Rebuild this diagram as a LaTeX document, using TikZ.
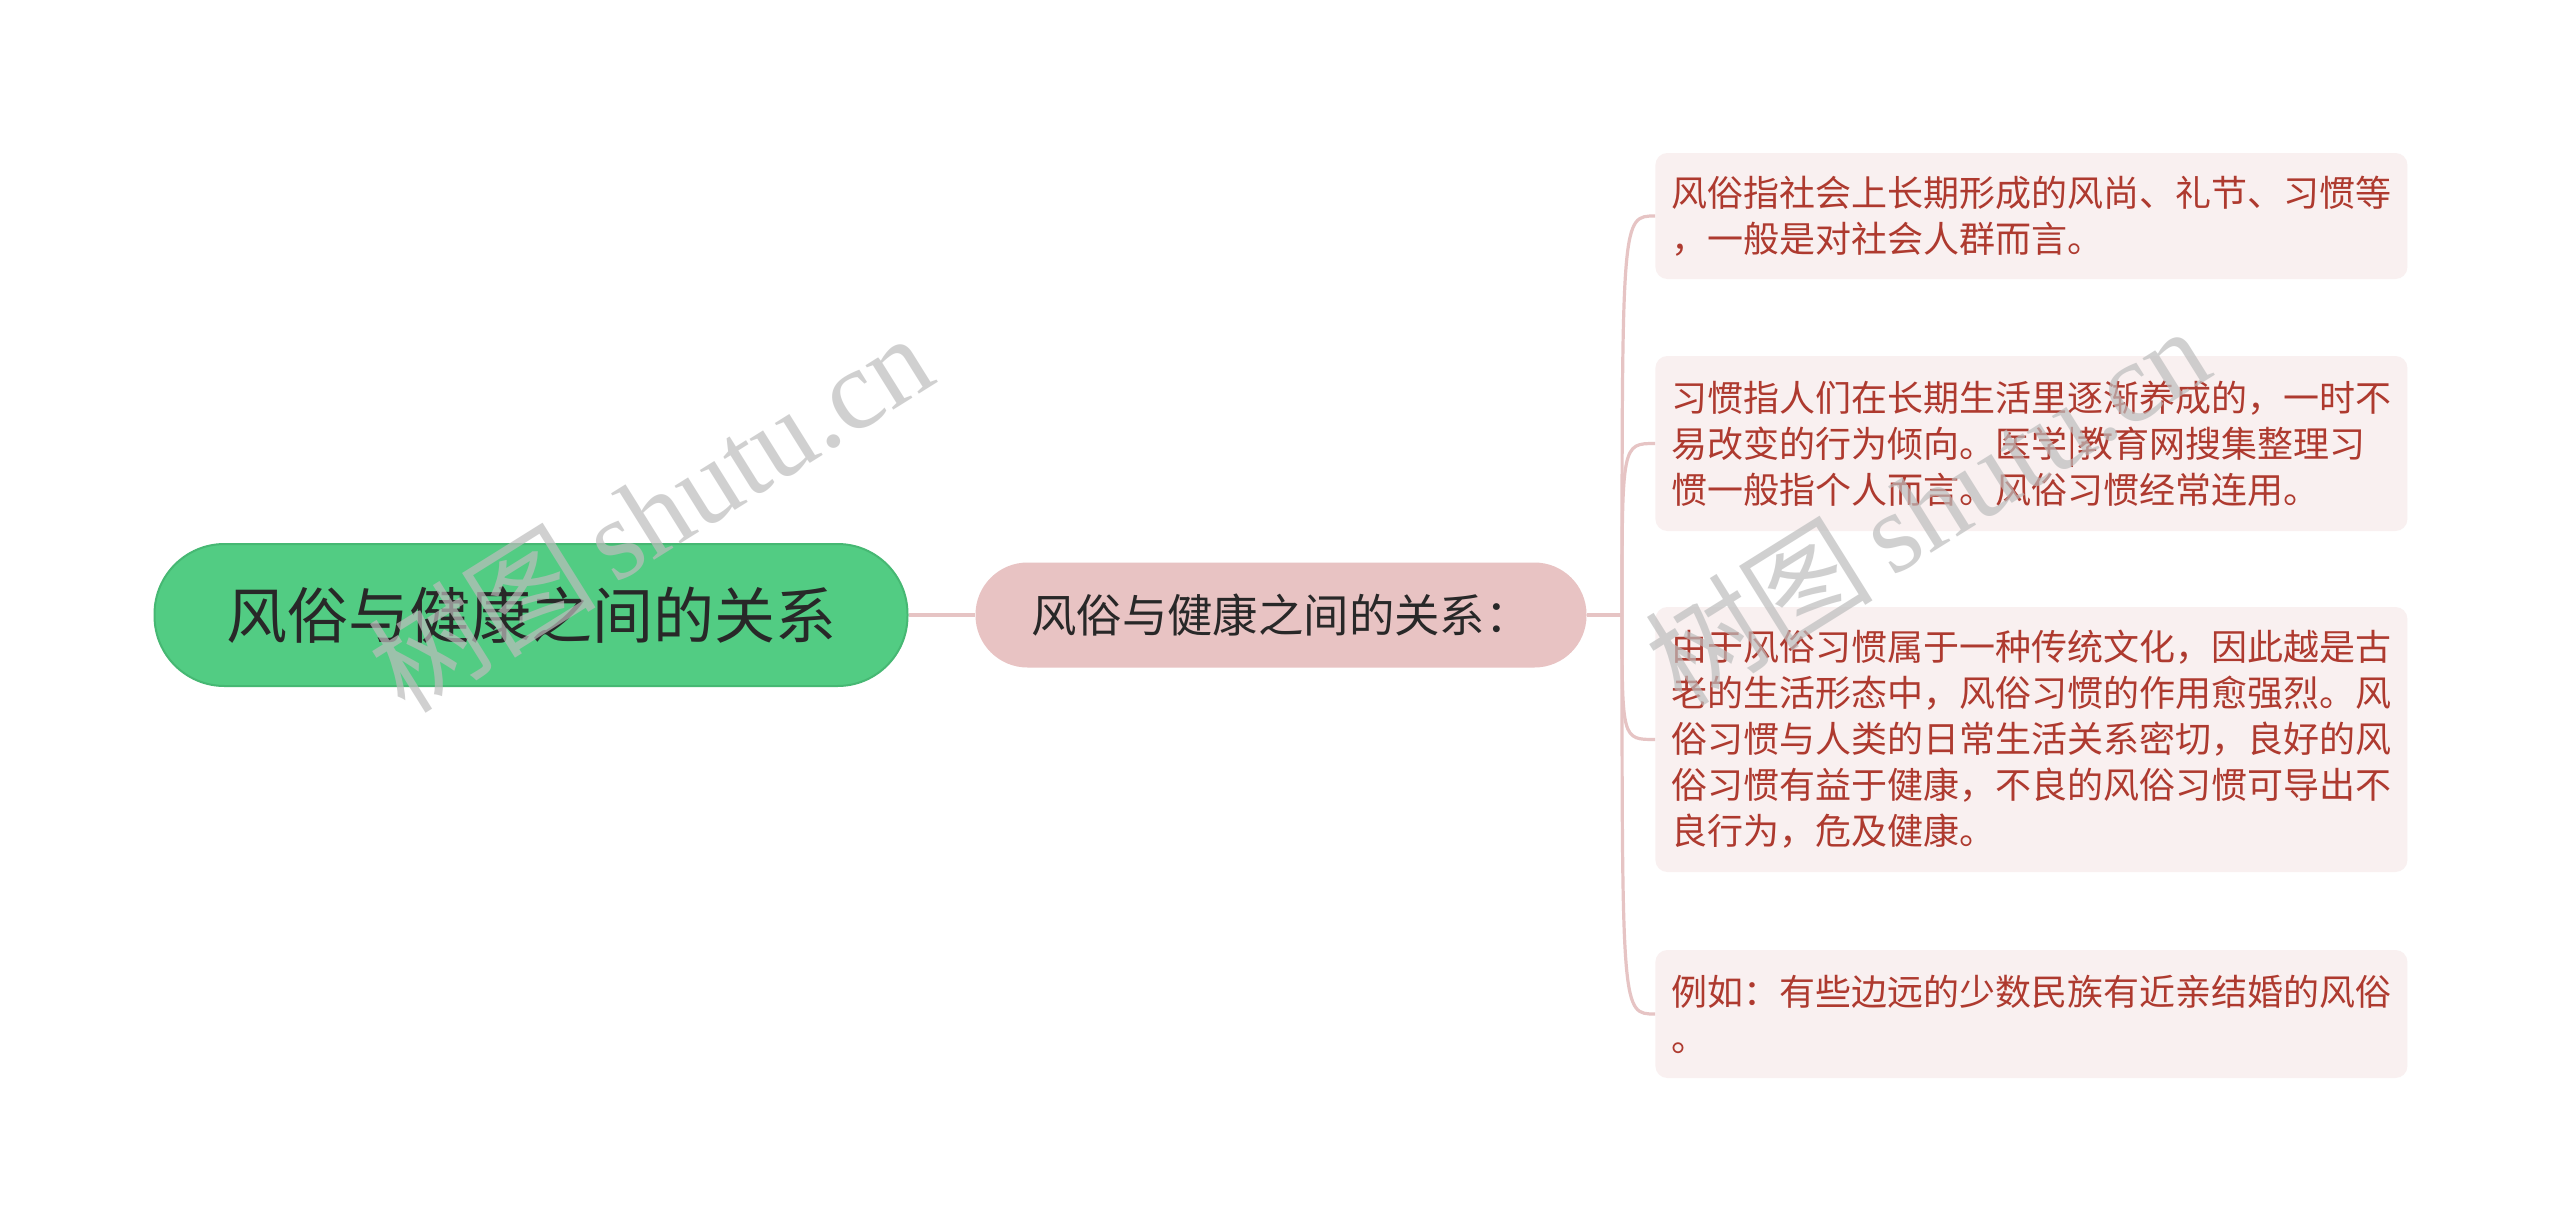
\documentclass[tikz,border=0pt]{standalone}
\usepackage{fontspec}
\newfontfamily\cjk{Noto Sans CJK SC}
\newfontfamily\wmlat{Liberation Serif}
\definecolor{rootfill}{HTML}{52CC83}
\definecolor{rootline}{HTML}{46B873}
\definecolor{midfill}{HTML}{E8C3C3}
\definecolor{linkc}{HTML}{E6C4C4}
\definecolor{leaffill}{HTML}{F9F0F0}
\definecolor{leaftext}{HTML}{AE3A2F}
\definecolor{darktext}{HTML}{282828}
\definecolor{wm}{HTML}{BDBDBD}
\begin{document}
\begin{tikzpicture}[x=0.5pt,y=-0.5pt,
  rootbox/.style={draw=rootline,line width=1pt,fill=rootfill,rounded corners=35pt,
    minimum width=376.5pt,minimum height=71pt,inner sep=0pt,
    font=\cjk\fontsize{30.5pt}{36pt}\selectfont,text=darktext},
  midbox/.style={fill=midfill,rounded corners=26pt,minimum width=305.5pt,
    minimum height=52.5pt,inner sep=0pt,
    font=\cjk\fontsize{22.7pt}{27pt}\selectfont,text=darktext},
  leafbox/.style={fill=leaffill,rounded corners=6pt,anchor=west,text width=360pt,
    align=left,inner xsep=8pt,inner ysep=0pt,minimum width=376pt,
    font=\cjk\fontsize{18pt}{23pt}\selectfont,text=leaftext},
  link/.style={draw=linkc,line width=1.6pt},
  wmark/.style={text=wm,opacity=0.7,rotate=32,inner sep=0pt}]
\useasboundingbox (0,0) rectangle (2560,1231);
\fill[white] (0,0) rectangle (2560,1231);

\node[rootbox] (root) at (531,615) {风俗与健康之间的关系};
\node[midbox] (mid) at (1281,615) {风俗与健康之间的关系：};

\node[leafbox,minimum height=63pt] (l1) at (1655,216)
  {风俗指社会上长期形成的风尚、礼节、习惯等\\，一般是对社会人群而言。};
\node[leafbox,minimum height=87.5pt] (l2) at (1655,443.5)
  {习惯指人们在长期生活里逐渐养成的，一时不\\易改变的行为倾向。医学|教育网搜集整理习\\惯一般指个人而言。风俗习惯经常连用。};
\node[leafbox,minimum height=132.5pt] (l3) at (1655,739.5)
  {由于风俗习惯属于一种传统文化，因此越是古\\老的生活形态中，风俗习惯的作用愈强烈。风\\俗习惯与人类的日常生活关系密切，良好的风\\俗习惯有益于健康，不良的风俗习惯可导出不\\良行为，危及健康。};
\node[leafbox,minimum height=64pt] (l4) at (1655,1014)
  {例如：有些边远的少数民族有近亲结婚的风俗\\。};

\coordinate (jn) at (1622,615);
\draw[link] (root.east) -- (mid.west);
\draw[link] (mid.east) -- (jn);
\foreach \t in {l1,l2,l3,l4}{
  \draw[link] (jn) .. controls (jn |- \t.west) .. (\t.west);
}

\node[wmark] (wm1) at (650,512) {\cjk\fontsize{57pt}{64pt}\selectfont 树图\,\wmlat shutu.cn};
\node[wmark] (wm2) at (1927,505) {\cjk\fontsize{57pt}{64pt}\selectfont 树图\,\wmlat shutu.cn};
\end{tikzpicture}
\end{document}
